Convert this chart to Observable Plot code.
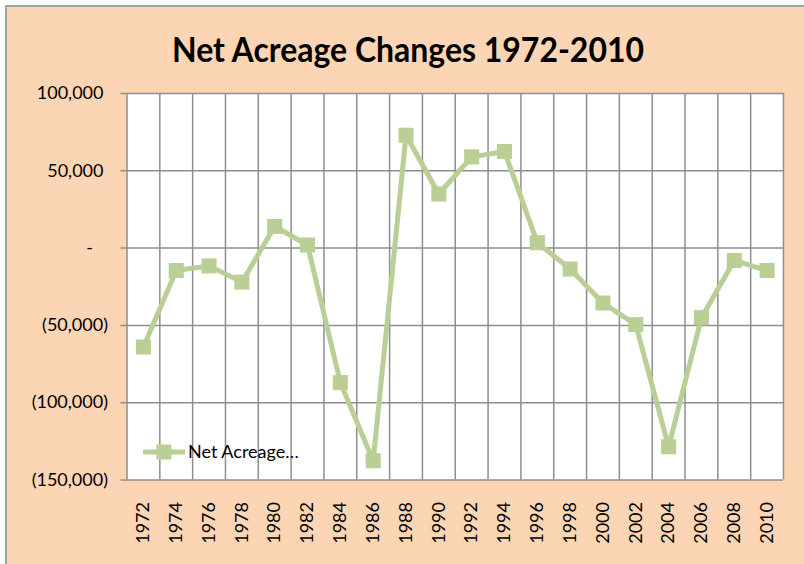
<!DOCTYPE html>
<html><head><meta charset="utf-8">
<script src="https://cdn.jsdelivr.net/npm/d3@7"></script>
<script src="https://cdn.jsdelivr.net/npm/@observablehq/plot@0.6"></script>
<style>
html,body{margin:0;padding:0;background:#fff;width:804px;height:564px;overflow:hidden;}
#bg{position:absolute;left:5px;top:5px;width:820px;height:580px;background:#fcd5b4;border-top:2px solid #a3a3a3;border-left:2px solid #a3a3a3;}
#chart{position:absolute;left:0;top:0;}
#overlay{position:absolute;left:0;top:0;pointer-events:none;}
</style></head><body>
<div id="bg"></div>
<div id="chart"></div>
<svg id="overlay" width="804" height="564"></svg>
<script>
// ---- data ----
const years  = [1972,1974,1976,1978,1980,1982,1984,1986,1988,1990,1992,1994,1996,1998,2000,2002,2004,2006,2008,2010];
const values = [-64000,-14500,-11500,-22000,14000,2000,-87000,-137500,73000,35000,59000,62500,3500,-13500,-35500,-49500,-128500,-45000,-8000,-14500];
const yTicks = [-150000,-100000,-50000,0,50000,100000];
const seriesName = "Net Acreage\u2026";
const chartTitle = "Net Acreage Changes 1972-2010";

const data = years.map((year, i) => ({year, value: values[i]}));
const boundaries = [years[0] - 1, ...years.map(y => y + 1)];

const green = "#bacf96";
const gridColor = "#8e8e8e";
const fmt = d3.format(",");
const yLabel = d => d > 0 ? fmt(d) + "\u2005" : d < 0 ? `(${fmt(-d)})` : "-\u2002\u2004";

const W = 804, H = 564;
const plot = Plot.plot({
  width: W, height: H,
  marginLeft: 126.5, marginRight: 21, marginTop: 93, marginBottom: 84.5,
  style: {background: "transparent", fontFamily: "Lato, 'Open Sans', sans-serif", fontSize: "18px", color: "#000", overflow: "visible"},
  x: {type: "linear", domain: [boundaries[0], boundaries[boundaries.length - 1]]},
  y: {domain: [yTicks[0], yTicks[yTicks.length - 1]]},
  marks: [
    Plot.frame({fill: "white", stroke: null}),
    Plot.ruleX(boundaries, {stroke: gridColor, strokeWidth: 1.5}),
    Plot.ruleY(yTicks, {stroke: gridColor, strokeWidth: 1.5, insetLeft: -6}),
    Plot.axisY(yTicks, {tickSize: 0, tickPadding: 19, tickFormat: yLabel, label: null, fill: "#000"}),
    Plot.axisX(years, {tickSize: 0, tickPadding: 22, tickRotate: -90, tickFormat: d => String(d), label: null, fill: "#000"}),
    Plot.line(data, {x: "year", y: "value", stroke: green, strokeWidth: 5, strokeLinejoin: "round"}),
    Plot.dot(data, {x: "year", y: "value", symbol: "square", r: 8.5, fill: green, stroke: null})
  ]
});
document.getElementById("chart").appendChild(plot);

// title + legend overlay
const ov = d3.select("#overlay");
ov.append("text")
  .attr("x", 408).attr("y", 62)
  .attr("text-anchor", "middle")
  .attr("font-family", "Lato, 'Open Sans', sans-serif")
  .attr("font-weight", "bold")
  .attr("font-size", 35)
  .attr("textLength", 472)
  .attr("lengthAdjust", "spacingAndGlyphs")
  .text(chartTitle);
const lg = ov.append("g").attr("transform", "translate(143,452)");
lg.append("line").attr("x1", 0).attr("x2", 42).attr("y1", 0).attr("y2", 0)
  .attr("stroke", green).attr("stroke-width", 5);
lg.append("rect").attr("x", 13.5).attr("y", -7.5).attr("width", 15).attr("height", 15).attr("fill", green);
lg.append("text").attr("x", 45).attr("y", 0).attr("dy", "0.35em")
  .attr("font-family", "Lato, 'Open Sans', sans-serif").attr("font-size", 18).attr("fill", "#000")
  .text(seriesName);
</script>
</body></html>
